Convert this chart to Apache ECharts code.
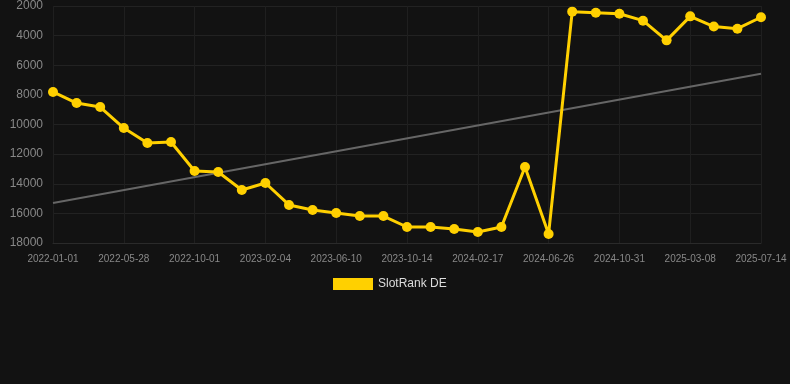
<!DOCTYPE html>
<html><head><meta charset="utf-8">
<script src="https://cdn.jsdelivr.net/npm/echarts@6/dist/echarts.min.js"></script>
<style>html,body{margin:0;padding:0;background:#121212}#c{width:790px;height:384px}</style>
</head><body><div id="c"></div>
<script>
var dates = ['2022-01-01','2022-02-19','2022-04-09','2022-05-28','2022-07-09','2022-08-20','2022-10-01','2022-11-12','2022-12-24','2023-02-04','2023-03-18','2023-04-29','2023-06-10','2023-07-22','2023-09-02','2023-10-14','2023-11-25','2024-01-06','2024-02-17','2024-03-30','2024-05-13','2024-06-26','2024-08-07','2024-09-19','2024-10-31','2024-12-12','2025-01-24','2025-03-08','2025-04-19','2025-06-01','2025-07-14'];
var rankDE = [7800,8550,8820,10240,11250,11180,13140,13210,14420,13950,15430,15770,15970,16180,16180,16920,16920,17060,17260,16920,12870,17390,2380,2450,2520,2990,4320,2700,3390,3530,2760];
var trendStart = 15300, trendEnd = 6570;
var yTicks = [2000,4000,6000,8000,10000,12000,14000,16000,18000];
var trend = dates.map(function(d,i){ return i===0 ? trendStart : (i===dates.length-1 ? trendEnd : null); });
var chart = echarts.init(document.getElementById('c'));
chart.setOption({
  backgroundColor:'#121212',
  animation:false,
  grid:{left:53,right:29,top:6,bottom:141},
  legend:{data:[{name:'SlotRank DE'}],top:273,left:328,itemWidth:40,itemHeight:12,icon:'rect',
    textStyle:{color:'#ddd',fontSize:12,fontFamily:'Arial, Liberation Sans, sans-serif'}},
  xAxis:{type:'category',data:dates,boundaryGap:false,
    axisLine:{lineStyle:{color:'#2a2a2a'}},
    axisTick:{show:false},
    axisLabel:{interval:2,color:'#888',fontSize:10,fontFamily:'Arial, Liberation Sans, sans-serif',margin:11},
    splitLine:{show:true,interval:2,lineStyle:{color:'#1f1f1f'}}},
  yAxis:{type:'value',inverse:true,min:yTicks[0],max:yTicks[yTicks.length-1],interval:2000,
    axisLine:{show:false},axisTick:{show:false},
    axisLabel:{color:'#888',fontSize:12,fontFamily:'Arial, Liberation Sans, sans-serif',margin:10,
      formatter:function(v){return String(v);}},
    splitLine:{lineStyle:{color:'#222'}}},
  series:[
    {name:'trend',type:'line',data:trend,connectNulls:true,symbol:'none',silent:true,
      lineStyle:{color:'#666',width:2},itemStyle:{color:'#666'},z:1},
    {name:'SlotRank DE',type:'line',data:rankDE,symbol:'circle',symbolSize:10,
      lineStyle:{color:'#FFD000',width:3},itemStyle:{color:'#FFD000'},z:2}
  ]
});
</script></body></html>
